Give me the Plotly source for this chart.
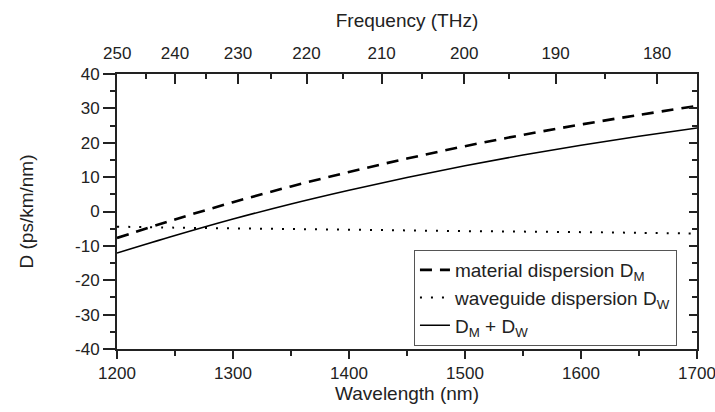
import plotly.graph_objects as go

wavelength = [1200, 1250, 1300, 1350, 1400, 1450, 1500, 1550, 1600, 1650, 1700]
d_material = [-7.7, -2.3, 2.7, 7.3, 11.5, 15.4, 19.0, 22.3, 25.3, 28.1, 30.7]
d_waveguide = [-4.4, -4.7, -4.9, -5.1, -5.3, -5.5, -5.7, -5.85, -6.0, -6.2, -6.4]
d_total = [-12.1, -7.0, -2.2, 2.2, 6.2, 9.9, 13.3, 16.45, 19.3, 21.9, 24.3]

d_ticks = [-40, -30, -20, -10, 0, 10, 20, 30, 40]
freq_major = [250, 240, 230, 220, 210, 200, 190, 180]
freq_minor = [245, 235, 225, 215, 205, 195, 185]
C_NM_THZ = 299792.458

FONT = "Liberation Sans, Arial, sans-serif"
INK = "#222"

fig = go.Figure()
fig.add_trace(go.Scatter(x=wavelength, y=d_material, mode="lines", line_shape="spline",
                         name="material dispersion D<sub>M</sub>",
                         line=dict(color="black", width=2.6, dash="12px,8px")))
fig.add_trace(go.Scatter(x=wavelength, y=d_waveguide, mode="lines", line_shape="spline",
                         name="waveguide dispersion D<sub>W</sub>",
                         line=dict(color="black", width=2, dash="2px,9px")))
fig.add_trace(go.Scatter(x=wavelength, y=d_total, mode="lines", line_shape="spline",
                         name="D<sub>M</sub> + D<sub>W</sub>",
                         line=dict(color="black", width=1.5)))
# invisible trace for top/right axes
fig.add_trace(go.Scatter(x=[1200], y=[0], xaxis="x2", yaxis="y2", mode="markers",
                         marker=dict(opacity=0), showlegend=False, hoverinfo="skip"))

tick_common = dict(tickwidth=2, tickcolor=INK, showline=True, linecolor=INK, linewidth=2,
                   showgrid=False, zeroline=False, ticklabeloverflow="allow",
                   automargin=False)

fig.update_layout(
    width=715, height=412,
    margin=dict(l=117, r=18, t=74, b=63, autoexpand=False),
    paper_bgcolor="white", plot_bgcolor="white",
    font=dict(family=FONT, size=17, color=INK),
    xaxis=dict(range=[1200, 1700], tickvals=[1200, 1300, 1400, 1500, 1600, 1700],
               ticks="outside", ticklen=8,
               minor=dict(tickvals=[1250, 1350, 1450, 1550, 1650], ticks="outside",
                          ticklen=5, tickwidth=2, tickcolor=INK),
               title=dict(text="Wavelength (nm)", font=dict(size=19), standoff=4),
               **tick_common),
    yaxis=dict(range=[-40, 40], tickvals=d_ticks, ticktext=[str(v) for v in d_ticks],
               ticks="outside", ticklen=12,
               minor=dict(tickvals=list(range(-35, 40, 10)), ticks="outside",
                          ticklen=5, tickwidth=2, tickcolor=INK),
               title=dict(text="D (ps/km/nm)", font=dict(size=19), standoff=36),
               **tick_common),
    xaxis2=dict(overlaying="x", side="top", range=[1199.0, 1700],
                tickvals=[C_NM_THZ / f for f in freq_major],
                ticktext=[str(f) for f in freq_major],
                ticks="inside", ticklen=10, ticklabelstandoff=6,
                minor=dict(tickvals=[C_NM_THZ / f for f in freq_minor], ticks="inside",
                           ticklen=5, tickwidth=2, tickcolor=INK),
                title=dict(text="Frequency (THz)", font=dict(size=19), standoff=12),
                **tick_common),
    yaxis2=dict(overlaying="y", side="right", range=[-40, 40],
                tickvals=d_ticks, showticklabels=False,
                ticks="inside", ticklen=8,
                minor=dict(tickvals=list(range(-35, 40, 10)), ticks="inside",
                           ticklen=5, tickwidth=2, tickcolor=INK),
                **tick_common),
    legend=dict(x=0.512, y=0.36, xanchor="left", yanchor="top",
                bgcolor="white", bordercolor="#555", borderwidth=1,
                font=dict(size=19, family=FONT, color=INK)),
    showlegend=True,
)

fig.write_html("out.html")
